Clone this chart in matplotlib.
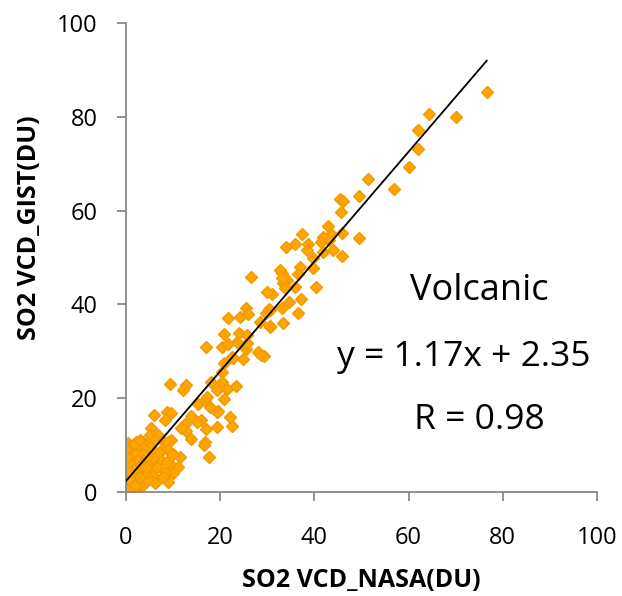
import numpy as np
import matplotlib
matplotlib.use('Agg')
import matplotlib.pyplot as plt

plt.rcParams['font.family'] = ['Open Sans', 'DejaVu Sans']

# SO2 VCD pairs (NASA, GIST), volcanic cases
nasa = [76.6, 70.0, 64.3, 61.9, 61.9, 60.0, 57.0, 51.4, 49.5, 45.5, 46.0, 45.6, 42.8, 49.5,
        37.4, 45.9, 43.5, 41.9, 35.9, 34.0, 38.7, 41.3, 43.2, 38.4, 44.0, 41.9, 45.8, 39.6,
        39.6, 36.9, 36.5, 33.1, 34.1, 33.4, 40.3, 35.9, 34.5, 37.1, 33.1, 36.6, 33.4, 32.7,
        33.2, 33.8, 30.9, 30.6, 30.6,
        20.8, 24.0, 25.6, 20.3, 21.6, 23.5, 25.4, 28.1, 29.2, 28.6, 20.7, 22.8, 24.9, 20.3,
        20.4, 19.3, 21.4, 23.3, 20.9, 19.5, 22.1, 22.6, 19.3,
        26.5, 29.9, 25.5, 25.8, 24.1, 21.7, 30.4, 29.7, 28.5, 30.6, 25.6, 16.9, 22.4,
        9.4, 12.7, 12.1, 18.0, 15.3, 16.8, 17.8, 19.3, 5.9, 8.6, 9.6, 8.2, 13.9, 15.9, 12.5,
        12.8, 11.7, 16.9, 5.4, 5.0, 6.8, 6.1, 7.9, 9.6, 13.9, 16.7, 2.2, 3.6, 0.4, 15.0, 17.1,
        16.5, 17.6, 8.9, 11.4, 9.6, 11.0, 8.9, 6.8, 5.4, 10.0, 8.2, 7.5, 8.9, 10.0, 6.1, 4.7,
        5.0, 3.6, 2.2, 2.5, 4.0, 2.5, 4.3, 6.1, 1.1, 3.2, 0.1, 9.7, 8.6, 7.6, 5.5, 7.9, 2.6, 6.5,
        0.0, 0.2, 0.1, 0.3, 0.0, 0.2, 0.1, 0.4, 0.0, 0.3, 0.1, 0.8, 1.0, 0.7, 1.2, 0.9, 1.4,
        1.5, 1.8, 1.3, 2.0, 2.8, 3.2, 3.0, 1.9, 0.5, 0.6, 0.4, 0.6, 0.2, 0.0, 3.5, 4.2, 5.8,
        6.9, 4.5, 1.6, 3.0]
gist = [85.2, 80.0, 80.6, 77.1, 73.1, 69.3, 64.6, 66.7, 63.2, 62.5, 62.1, 59.8, 56.8, 54.1,
        55.0, 55.2, 55.0, 54.4, 52.9, 52.3, 52.9, 53.4, 53.7, 51.5, 51.7, 51.2, 50.4, 49.8,
        47.7, 47.9, 46.5, 46.6, 45.2, 44.5, 43.8, 43.8, 40.6, 41.2, 39.2, 38.1, 36.0, 47.3,
        45.6, 43.4, 42.2, 38.8, 35.2,
        33.7, 34.0, 33.5, 30.9, 31.6, 32.0, 30.5, 29.9, 29.0, 29.2, 27.4, 28.5, 28.3, 25.6,
        23.5, 21.7, 21.9, 22.5, 19.8, 17.3, 15.9, 14.1, 13.8,
        45.9, 42.6, 39.2, 37.9, 37.4, 37.2, 39.0, 38.1, 36.3, 35.4, 31.8, 31.0, 28.8,
        23.0, 22.8, 21.7, 23.5, 18.8, 19.6, 18.2, 17.1, 16.4, 17.1, 16.8, 15.4, 16.1, 15.4, 14.6,
        12.9, 13.6, 13.4, 13.6, 12.2, 12.2, 11.1, 10.9, 11.1, 11.4, 10.7, 10.7, 10.7, 10.4, 15.0, 20.3,
        10.0, 7.4, 10.7, 7.4, 5.8, 5.4, 2.2, 2.6, 4.0, 4.0, 4.3, 6.8, 9.0, 8.1, 8.2, 6.8,
        9.7, 9.3, 9.7, 5.4, 4.0, 2.6, 2.2, 1.9, 0.8, 1.1, 0.4, 7.9, 6.5, 9.0, 6.1, 3.3, 1.5, 5.4,
        0.2, 1.0, 2.0, 3.0, 4.1, 5.0, 6.0, 7.1, 8.0, 9.0, 9.8, 1.5, 3.5, 5.5, 7.0, 8.5, 2.5,
        4.5, 6.2, 9.3, 8.0, 7.0, 5.8, 3.2, 1.2, 0.5, 2.8, 4.5, 6.5, 7.5, 9.2, 8.2, 5.3, 7.3,
        8.6, 7.6, 10.3, 11.0]

slope = 1.17
intercept = 2.35
r_value = 0.98

fig = plt.figure(figsize=(6.22, 5.96), dpi=100)
ax = fig.add_axes([0.2026, 0.1745, 0.7572, 0.7869])

ax.plot(nasa, gist, 'D', ms=6.0, mfc='#FFA500', mec='#F29A00', mew=1.0, zorder=2)

# fitted line over the range of the data
xf = np.array([0, max(nasa)])
ax.plot(xf, slope * xf + intercept, color='black', lw=1.3, zorder=3)

ax.set_xlim(0, 100)
ax.set_ylim(0, 100)
ax.set_xticks(range(0, 101, 20))
ax.set_yticks(range(0, 101, 20))

for s in ['top', 'right']:
    ax.spines[s].set_visible(False)
for s in ['left', 'bottom']:
    ax.spines[s].set_color('#898989')
    ax.spines[s].set_linewidth(1.3)
ax.tick_params(direction='out', length=6.5, width=1.3, color='#898989',
               labelsize=17, labelcolor='black')
ax.tick_params(axis='x', pad=18)
ax.tick_params(axis='y', pad=14)

ax.set_xlabel('SO2 VCD_NASA(DU)', fontsize=18, fontweight='bold')
ax.set_ylabel('SO2 VCD_GIST(DU)', fontsize=18, fontweight='bold')
ax.xaxis.set_label_coords(0.5, -0.162)
ax.yaxis.set_label_coords(-0.178, 0.563)

ax.text(75, 42.9, 'Volcanic', fontsize=26, ha='center', va='center')
ax.text(71.8, 28.8, 'y = %.2fx + %.2f' % (slope, intercept), fontsize=25.5, ha='center', va='center')
ax.text(75, 15.4, 'R = %.2f' % r_value, fontsize=25.5, ha='center', va='center')

fig.savefig('out.png', dpi=100)
